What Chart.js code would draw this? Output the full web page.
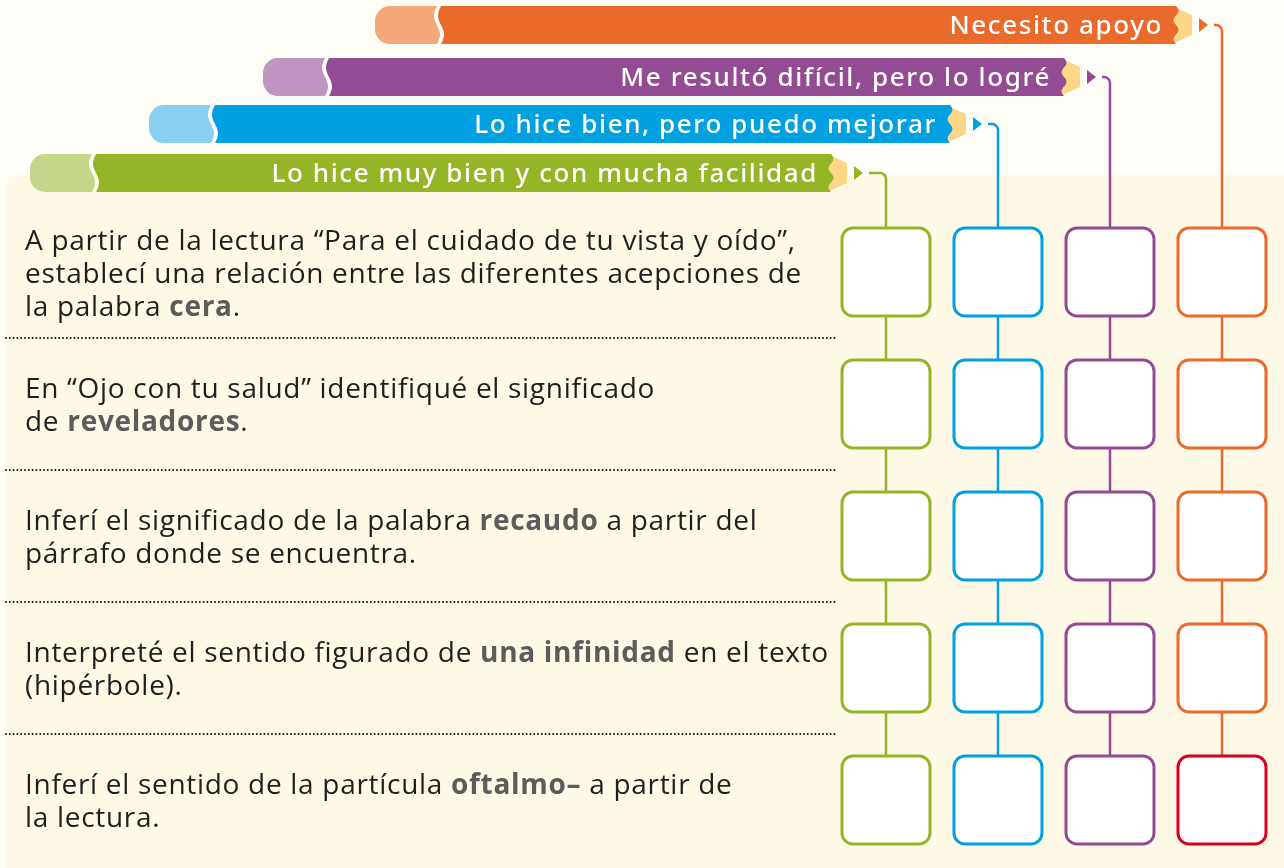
<!DOCTYPE html>
<html lang="es">
<head>
<meta charset="utf-8">
<title>Autoevaluación</title>
<script src="https://cdn.jsdelivr.net/npm/chart.js"></script>
<style>
  html, body { margin: 0; padding: 0; background: #fffdf7; }
  #wrap { position: relative; width: 1284px; height: 868px; overflow: hidden; }
  #panel { position: absolute; left: 5px; top: 175px; right: 0; bottom: 0; background: #fef9e7; border-top-left-radius: 12px; }
  #myChart { position: absolute; left: 0; top: 0; }
  .label { position: absolute; color: #fff; font-family: "Noto Sans"; font-weight: 500; font-size: 26px; letter-spacing: 1.6px; white-space: nowrap; transform: translate(-100%, -53%); }
  .item { position: absolute; left: 25px; font-family: "Open Sans"; font-size: 28px; letter-spacing: 0.7px; line-height: 33px; color: #1f1f1f; white-space: nowrap; transform: translateY(-50%); }
  .item b { color: #5c5c5c; font-weight: 700; }
</style>
</head>
<body>
<div id="wrap">
  <div id="panel"></div>
  <canvas id="myChart" width="1284" height="868"></canvas>
</div>
<script>
// 기준 (niveles)
const levels = ['Lo hice muy bien y con mucha facilidad', 'Lo hice bien, pero puedo mejorar', 'Me resultó difícil, pero lo logré', 'Necesito apoyo'];
const levelColors = ['#95b526', '#00a0e1', '#934c93', '#ea6a2b'];
const eraserColors = ['#c5d68b', '#88d0f1', '#bf96c2', '#f5a97a'];
const woodColor = '#fed687';

// 문항
const statements = [
  'A partir de la lectura “Para el cuidado de tu vista y oído”,<br>establecí una relación entre las diferentes acepciones de<br>la palabra <b>cera</b>.',
  'En “Ojo con tu salud” identifiqué el significado<br>de <b>reveladores</b>.',
  'Inferí el significado de la palabra <b>recaudo</b> a partir del<br>párrafo donde se encuentra.',
  'Interpreté el sentido figurado de <b>una infinidad</b> en el texto<br>(hipérbole).',
  'Inferí el sentido de la partícula <b>oftalmo–</b> a partir de<br>la lectura.'
];

// casilla marcada en rojo [fila, nivel]
const flagged = [[4, 3]];

// filas de los lápices (en unidades de fila) y hueco punta-columna
const pencilRows = [-0.75, -1.121, -1.477, -1.871];
const tipGaps = [39, 32, 30, 30];

function makeBox(color) {
  const c = document.createElement('canvas');
  c.width = 92; c.height = 92;
  const g = c.getContext('2d');
  g.beginPath();
  g.roundRect(2, 2, 88, 88, 11);
  g.fillStyle = '#ffffff';
  g.fill();
  g.lineWidth = 3;
  g.strokeStyle = color;
  g.stroke();
  return c;
}
const boxes = levelColors.map(makeBox);
const redBox = makeBox('#d7001d');

function isFlagged(r, c) {
  return flagged.some(f => f[0] === r && f[1] === c);
}

// 연필 + 연결선
const pencilPlugin = {
  id: 'pencils',
  beforeDatasetsDraw(chart) {
    const ctx = chart.ctx;
    const xs = chart.scales.x, ys = chart.scales.y;
    const bottomY = ys.getPixelForValue(statements.length - 1);

    // separadores punteados
    ctx.save();
    ctx.strokeStyle = '#111';
    ctx.lineWidth = 2;
    ctx.lineCap = 'round';
    ctx.setLineDash([0, 3.8]);
    for (let r = 0; r < statements.length - 1; r++) {
      const y = Math.round(ys.getPixelForValue(r + 0.5));
      ctx.beginPath();
      ctx.moveTo(6, y);
      ctx.lineTo(835, y);
      ctx.stroke();
    }
    ctx.restore();

    levels.forEach((lv, c) => {
      const cx = xs.getPixelForValue(c);
      const py = ys.getPixelForValue(pencilRows[c]);
      const tip = cx - tipGaps[c];
      const left = tip - 817;
      const h = 38, top = py - h / 2, bot = py + h / 2;
      const eEnd = left + 62;
      const bStart = eEnd + 4;
      const bEnd = tip - 16;

      ctx.save();
      // borrador
      ctx.beginPath();
      ctx.moveTo(left + 15, top);
      ctx.lineTo(eEnd, top);
      for (let i = 0; i <= 20; i++) {
        const t = i / 20;
        ctx.lineTo(eEnd - 3 * Math.sin(Math.PI * 2 * t), top + h * t);
      }
      ctx.lineTo(left + 15, bot);
      ctx.arcTo(left, bot, left, py, 15);
      ctx.arcTo(left, top, left + 15, top, 15);
      ctx.closePath();
      ctx.fillStyle = eraserColors[c];
      ctx.fill();

      // madera
      ctx.beginPath();
      ctx.moveTo(bEnd - 4, top);
      ctx.lineTo(tip, top + 9);
      ctx.lineTo(tip, bot - 9);
      ctx.lineTo(bEnd - 4, bot);
      ctx.closePath();
      ctx.fillStyle = woodColor;
      ctx.fill();

      // cuerpo
      ctx.beginPath();
      ctx.moveTo(bStart, top);
      ctx.lineTo(bEnd, top);
      for (let i = 0; i <= 24; i++) {
        const t = i / 24;
        ctx.lineTo(bEnd + 2.5 * Math.sin(Math.PI * 4 * t), top + h * t);
      }
      ctx.lineTo(bStart, bot);
      for (let i = 20; i >= 0; i--) {
        const t = i / 20;
        ctx.lineTo(bStart - 3 * Math.sin(Math.PI * 2 * t), top + h * t);
      }
      ctx.closePath();
      ctx.fillStyle = levelColors[c];
      ctx.fill();

      // flecha
      ctx.beginPath();
      ctx.moveTo(tip + 7, py - 7);
      ctx.lineTo(tip + 16, py);
      ctx.lineTo(tip + 7, py + 7);
      ctx.closePath();
      ctx.fill();

      // conector
      ctx.beginPath();
      ctx.moveTo(tip + 22, py);
      ctx.arcTo(cx, py, cx, py + 10, 6);
      ctx.lineTo(cx, bottomY);
      ctx.lineWidth = 2.5;
      ctx.strokeStyle = levelColors[c];
      ctx.stroke();
      ctx.restore();
    });
  }
};

const datasets = levels.map((lv, c) => ({
  label: lv,
  data: statements.map((s, r) => ({ x: c, y: r })),
  pointStyle: ctx => isFlagged(ctx.dataIndex, c) ? redBox : boxes[c],
  pointRadius: 44,
  hoverRadius: 44
}));

const config = {
  type: 'scatter',
  data: { datasets: datasets },
  options: {
    responsive: false,
    animation: false,
    events: [],
    layout: { padding: 0, autoPadding: false },
    scales: {
      x: { type: 'linear', display: false, min: -886 / 112, max: (1284 - 886) / 112 },
      y: { type: 'linear', display: false, reverse: true, min: -272 / 132, max: (868 - 272) / 132 }
    },
    plugins: {
      legend: { display: false },
      tooltip: { enabled: false }
    }
  },
  plugins: [pencilPlugin]
};

const chart = new Chart(document.getElementById('myChart'), config);

// textos
const wrap = document.getElementById('wrap');
const xs = chart.scales.x, ys = chart.scales.y;
levels.forEach((lv, c) => {
  const d = document.createElement('div');
  d.className = 'label';
  d.textContent = lv;
  d.style.left = (xs.getPixelForValue(c) - tipGaps[c] - 29) + 'px';
  d.style.top = ys.getPixelForValue(pencilRows[c]) + 'px';
  wrap.appendChild(d);
});
statements.forEach((s, r) => {
  const d = document.createElement('div');
  d.className = 'item';
  d.innerHTML = s;
  d.style.top = ys.getPixelForValue(r) + 'px';
  wrap.appendChild(d);
});
</script>
</body>
</html>
